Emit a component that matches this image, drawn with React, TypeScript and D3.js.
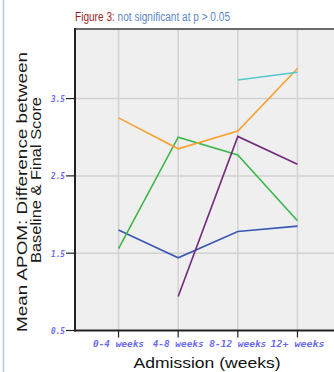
import React from "react";
import * as d3 from "d3";

const categories = ["0-4 weeks", "4-8 weeks", "8-12 weeks", "12+ weeks"];
const yTicks = [0.5, 1.5, 2.5, 3.5];
const cyanSeries: (number | null)[] = [null, null, 3.74, 3.84];
const orangeSeries: (number | null)[] = [3.25, 2.85, 3.08, 3.89];
const greenSeries: (number | null)[] = [1.56, 3.0, 2.77, 1.92];
const purpleSeries: (number | null)[] = [null, 0.94, 3.01, 2.65];
const blueSeries: (number | null)[] = [1.8, 1.44, 1.78, 1.85];

const series = [
  { name: "blue", values: blueSeries, color: "#3a58b4" },
  { name: "green", values: greenSeries, color: "#3bb84a" },
  { name: "purple", values: purpleSeries, color: "#742a7c" },
  { name: "orange", values: orangeSeries, color: "#f9a030" },
  { name: "cyan", values: cyanSeries, color: "#52c8cc" },
];

const W = 334;
const H = 372;
const left = 75;
const right = 341;
const top = 29;
const bottom = 330.5;

export default function App() {
  const x = d3.scalePoint<string>().domain(categories).range([left, right]).padding(0.73);
  const y = d3.scaleLinear().domain([0.5, 4.4]).range([bottom, top]);
  const line = d3
    .line<number | null>()
    .defined((d) => d !== null)
    .x((_, i) => x(categories[i]) as number)
    .y((d) => y(d as number));

  const tickFont = {
    fontFamily: "'DejaVu Sans Mono', monospace",
    fontWeight: 700,
    fontStyle: "italic" as const,
    fontSize: 9,
    fill: "#6b6bf2",
  };
  const xLens = [51, 51, 57, 54];

  return (
    <svg
      width={W}
      height={H}
      style={{ position: "absolute", left: 0, top: 0, background: "#fff" }}
    >
      <rect x={0} y={0} width={W} height={H} fill="#fff" />
      <line x1={3.5} x2={3.5} y1={0} y2={H} stroke="#b4c8e4" strokeWidth={1.5} />
      {/* title */}
      <text
        x={75}
        y={21}
        fontFamily="'Liberation Sans Narrow', 'Arial Narrow', sans-serif"
        fontSize={12}
        textLength={155}
        lengthAdjust="spacingAndGlyphs"
      >
        <tspan fill="#a01c28">Figure 3:</tspan>
        <tspan fill="#5b86c6"> not significant at p &gt; 0.05</tspan>
      </text>
      {/* plot area */}
      <rect x={left} y={top} width={right - left} height={bottom - top} fill="#efefef" />
      {categories.map((c) => (
        <line
          key={c}
          x1={x(c)}
          x2={x(c)}
          y1={top}
          y2={bottom}
          stroke="#d2d2d2"
          strokeWidth={1.5}
        />
      ))}
      {yTicks.slice(1).map((t) => (
        <line
          key={t}
          x1={left}
          x2={right}
          y1={y(t)}
          y2={y(t)}
          stroke="#d2d2d2"
          strokeWidth={1.5}
        />
      ))}
      <line x1={left} x2={right} y1={top} y2={top} stroke="#6a6a6a" strokeWidth={2} />
      <line x1={left} x2={left} y1={top - 1} y2={bottom + 1} stroke="#222" strokeWidth={2} />
      <line x1={left - 1} x2={right} y1={bottom} y2={bottom} stroke="#222" strokeWidth={2} />
      {/* series */}
      {series.map((s) => (
        <path
          key={s.name}
          d={line(s.values) || ""}
          fill="none"
          stroke={s.color}
          strokeWidth={1.6}
        />
      ))}
      {/* y ticks */}
      {yTicks.map((t) => (
        <g key={t}>
          <line x1={left - 9} x2={left} y1={y(t)} y2={y(t)} stroke="#222" strokeWidth={1.2} />
          <text
            x={65}
            y={y(t) + 3.5}
            textAnchor="end"
            {...tickFont}
            textLength={14}
            lengthAdjust="spacingAndGlyphs"
          >
            {t.toFixed(1)}
          </text>
        </g>
      ))}
      {/* x ticks */}
      {categories.map((c, i) => (
        <g key={c}>
          <line x1={x(c)} x2={x(c)} y1={bottom} y2={bottom + 7} stroke="#222" strokeWidth={1.2} />
          <text
            x={x(c)}
            y={346.5}
            textAnchor="middle"
            {...tickFont}
            textLength={xLens[i]}
            lengthAdjust="spacingAndGlyphs"
          >
            {c}
          </text>
        </g>
      ))}
      {/* axis titles */}
      <text
        x={207}
        y={368}
        textAnchor="middle"
        fontFamily="'Liberation Sans', Arial, sans-serif"
        fontSize={15}
        fill="#111"
        textLength={147}
        lengthAdjust="spacingAndGlyphs"
      >
        Admission (weeks)
      </text>
      <text
        transform="translate(27,192) rotate(-90)"
        textAnchor="middle"
        fontFamily="'Liberation Sans', Arial, sans-serif"
        fontSize={14.5}
        fill="#1a1a1a"
        textLength={280}
        lengthAdjust="spacingAndGlyphs"
      >
        Mean APOM:  Difference between
      </text>
      <text
        transform="translate(40.5,180) rotate(-90)"
        textAnchor="middle"
        fontFamily="'Liberation Sans', Arial, sans-serif"
        fontSize={14.5}
        fill="#1a1a1a"
        textLength={166}
        lengthAdjust="spacingAndGlyphs"
      >
        Baseline &amp; Final Score
      </text>
    </svg>
  );
}
